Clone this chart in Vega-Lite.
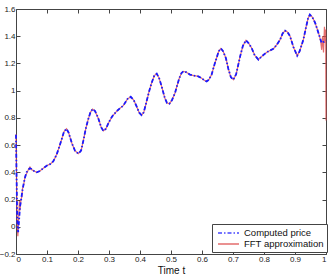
{
  "$schema": "https://vega.github.io/schema/vega-lite/v6.json",
  "autosize": {"type": "none"},
  "width": 310,
  "height": 245,
  "padding": {"left": 16, "top": 9, "right": 6, "bottom": 23},
  "background": "white",
  "datasets": {
    "fft": [
      {"t": 0, "y": 0.68, "series": "FFT approximation"},
      {"t": 0.002, "y": 0.30, "series": "FFT approximation"},
      {"t": 0.004, "y": 0.0, "series": "FFT approximation"},
      {"t": 0.006, "y": -0.07, "series": "FFT approximation"},
      {"t": 0.009, "y": 0.08, "series": "FFT approximation"},
      {"t": 0.011, "y": 0.19, "series": "FFT approximation"},
      {"t": 0.013, "y": 0.12, "series": "FFT approximation"},
      {"t": 0.016, "y": 0.20, "series": "FFT approximation"},
      {"t": 0.019, "y": 0.22, "series": "FFT approximation"},
      {"t": 0.021, "y": 0.28, "series": "FFT approximation"},
      {"t": 0.025, "y": 0.31, "series": "FFT approximation"},
      {"t": 0.029, "y": 0.37, "series": "FFT approximation"},
      {"t": 0.034, "y": 0.39, "series": "FFT approximation"},
      {"t": 0.040, "y": 0.42, "series": "FFT approximation"},
      {"t": 0.045, "y": 0.44, "series": "FFT approximation"},
      {"t": 0.050, "y": 0.42, "series": "FFT approximation"},
      {"t": 0.058, "y": 0.41, "series": "FFT approximation"},
      {"t": 0.067, "y": 0.40, "series": "FFT approximation"},
      {"t": 0.077, "y": 0.41, "series": "FFT approximation"},
      {"t": 0.088, "y": 0.43, "series": "FFT approximation"},
      {"t": 0.10, "y": 0.45, "series": "FFT approximation"},
      {"t": 0.11, "y": 0.46, "series": "FFT approximation"},
      {"t": 0.12, "y": 0.48, "series": "FFT approximation"},
      {"t": 0.131, "y": 0.53, "series": "FFT approximation"},
      {"t": 0.14, "y": 0.59, "series": "FFT approximation"},
      {"t": 0.147, "y": 0.64, "series": "FFT approximation"},
      {"t": 0.155, "y": 0.70, "series": "FFT approximation"},
      {"t": 0.163, "y": 0.72, "series": "FFT approximation"},
      {"t": 0.17, "y": 0.69, "series": "FFT approximation"},
      {"t": 0.18, "y": 0.615, "series": "FFT approximation"},
      {"t": 0.19, "y": 0.56, "series": "FFT approximation"},
      {"t": 0.201, "y": 0.537, "series": "FFT approximation"},
      {"t": 0.21, "y": 0.56, "series": "FFT approximation"},
      {"t": 0.217, "y": 0.63, "series": "FFT approximation"},
      {"t": 0.225, "y": 0.72, "series": "FFT approximation"},
      {"t": 0.233, "y": 0.79, "series": "FFT approximation"},
      {"t": 0.24, "y": 0.84, "series": "FFT approximation"},
      {"t": 0.247, "y": 0.865, "series": "FFT approximation"},
      {"t": 0.255, "y": 0.85, "series": "FFT approximation"},
      {"t": 0.265, "y": 0.80, "series": "FFT approximation"},
      {"t": 0.275, "y": 0.73, "series": "FFT approximation"},
      {"t": 0.282, "y": 0.705, "series": "FFT approximation"},
      {"t": 0.29, "y": 0.72, "series": "FFT approximation"},
      {"t": 0.30, "y": 0.77, "series": "FFT approximation"},
      {"t": 0.31, "y": 0.81, "series": "FFT approximation"},
      {"t": 0.325, "y": 0.85, "series": "FFT approximation"},
      {"t": 0.335, "y": 0.87, "series": "FFT approximation"},
      {"t": 0.346, "y": 0.89, "series": "FFT approximation"},
      {"t": 0.36, "y": 0.94, "series": "FFT approximation"},
      {"t": 0.37, "y": 0.955, "series": "FFT approximation"},
      {"t": 0.38, "y": 0.93, "series": "FFT approximation"},
      {"t": 0.389, "y": 0.885, "series": "FFT approximation"},
      {"t": 0.397, "y": 0.84, "series": "FFT approximation"},
      {"t": 0.405, "y": 0.82, "series": "FFT approximation"},
      {"t": 0.412, "y": 0.84, "series": "FFT approximation"},
      {"t": 0.42, "y": 0.91, "series": "FFT approximation"},
      {"t": 0.43, "y": 1.0, "series": "FFT approximation"},
      {"t": 0.438, "y": 1.06, "series": "FFT approximation"},
      {"t": 0.446, "y": 1.11, "series": "FFT approximation"},
      {"t": 0.454, "y": 1.125, "series": "FFT approximation"},
      {"t": 0.462, "y": 1.09, "series": "FFT approximation"},
      {"t": 0.47, "y": 1.03, "series": "FFT approximation"},
      {"t": 0.48, "y": 0.946, "series": "FFT approximation"},
      {"t": 0.487, "y": 0.91, "series": "FFT approximation"},
      {"t": 0.495, "y": 0.904, "series": "FFT approximation"},
      {"t": 0.503, "y": 0.93, "series": "FFT approximation"},
      {"t": 0.513, "y": 0.983, "series": "FFT approximation"},
      {"t": 0.52, "y": 1.04, "series": "FFT approximation"},
      {"t": 0.527, "y": 1.093, "series": "FFT approximation"},
      {"t": 0.534, "y": 1.13, "series": "FFT approximation"},
      {"t": 0.54, "y": 1.142, "series": "FFT approximation"},
      {"t": 0.55, "y": 1.135, "series": "FFT approximation"},
      {"t": 0.561, "y": 1.118, "series": "FFT approximation"},
      {"t": 0.575, "y": 1.11, "series": "FFT approximation"},
      {"t": 0.588, "y": 1.105, "series": "FFT approximation"},
      {"t": 0.60, "y": 1.09, "series": "FFT approximation"},
      {"t": 0.608, "y": 1.075, "series": "FFT approximation"},
      {"t": 0.615, "y": 1.068, "series": "FFT approximation"},
      {"t": 0.622, "y": 1.08, "series": "FFT approximation"},
      {"t": 0.631, "y": 1.118, "series": "FFT approximation"},
      {"t": 0.64, "y": 1.19, "series": "FFT approximation"},
      {"t": 0.647, "y": 1.24, "series": "FFT approximation"},
      {"t": 0.654, "y": 1.29, "series": "FFT approximation"},
      {"t": 0.661, "y": 1.31, "series": "FFT approximation"},
      {"t": 0.668, "y": 1.29, "series": "FFT approximation"},
      {"t": 0.677, "y": 1.24, "series": "FFT approximation"},
      {"t": 0.685, "y": 1.16, "series": "FFT approximation"},
      {"t": 0.693, "y": 1.10, "series": "FFT approximation"},
      {"t": 0.701, "y": 1.081, "series": "FFT approximation"},
      {"t": 0.71, "y": 1.12, "series": "FFT approximation"},
      {"t": 0.717, "y": 1.19, "series": "FFT approximation"},
      {"t": 0.723, "y": 1.252, "series": "FFT approximation"},
      {"t": 0.732, "y": 1.33, "series": "FFT approximation"},
      {"t": 0.742, "y": 1.37, "series": "FFT approximation"},
      {"t": 0.75, "y": 1.35, "series": "FFT approximation"},
      {"t": 0.76, "y": 1.314, "series": "FFT approximation"},
      {"t": 0.77, "y": 1.26, "series": "FFT approximation"},
      {"t": 0.782, "y": 1.228, "series": "FFT approximation"},
      {"t": 0.792, "y": 1.25, "series": "FFT approximation"},
      {"t": 0.803, "y": 1.272, "series": "FFT approximation"},
      {"t": 0.815, "y": 1.29, "series": "FFT approximation"},
      {"t": 0.83, "y": 1.307, "series": "FFT approximation"},
      {"t": 0.842, "y": 1.34, "series": "FFT approximation"},
      {"t": 0.852, "y": 1.375, "series": "FFT approximation"},
      {"t": 0.86, "y": 1.42, "series": "FFT approximation"},
      {"t": 0.868, "y": 1.441, "series": "FFT approximation"},
      {"t": 0.876, "y": 1.43, "series": "FFT approximation"},
      {"t": 0.884, "y": 1.40, "series": "FFT approximation"},
      {"t": 0.895, "y": 1.32, "series": "FFT approximation"},
      {"t": 0.907, "y": 1.257, "series": "FFT approximation"},
      {"t": 0.915, "y": 1.29, "series": "FFT approximation"},
      {"t": 0.927, "y": 1.375, "series": "FFT approximation"},
      {"t": 0.935, "y": 1.46, "series": "FFT approximation"},
      {"t": 0.942, "y": 1.53, "series": "FFT approximation"},
      {"t": 0.948, "y": 1.559, "series": "FFT approximation"},
      {"t": 0.956, "y": 1.54, "series": "FFT approximation"},
      {"t": 0.965, "y": 1.498, "series": "FFT approximation"},
      {"t": 0.972, "y": 1.45, "series": "FFT approximation"},
      {"t": 0.979, "y": 1.40, "series": "FFT approximation"},
      {"t": 0.983, "y": 1.36, "series": "FFT approximation"},
      {"t": 0.986, "y": 1.30, "series": "FFT approximation"},
      {"t": 0.989, "y": 1.40, "series": "FFT approximation"},
      {"t": 0.992, "y": 1.28, "series": "FFT approximation"},
      {"t": 0.995, "y": 1.47, "series": "FFT approximation"},
      {"t": 0.997, "y": 1.35, "series": "FFT approximation"},
      {"t": 0.999, "y": 1.45, "series": "FFT approximation"},
      {"t": 1.0, "y": 0.78, "series": "FFT approximation"}
    ],
    "computed": [
      {"t": 0, "y": 0.676, "series": "Computed price"},
      {"t": 0.002, "y": 0.35, "series": "Computed price"},
      {"t": 0.004, "y": 0.05, "series": "Computed price"},
      {"t": 0.007, "y": -0.04, "series": "Computed price"},
      {"t": 0.010, "y": 0.05, "series": "Computed price"},
      {"t": 0.013, "y": 0.15, "series": "Computed price"},
      {"t": 0.016, "y": 0.19, "series": "Computed price"},
      {"t": 0.021, "y": 0.27, "series": "Computed price"},
      {"t": 0.025, "y": 0.32, "series": "Computed price"},
      {"t": 0.029, "y": 0.36, "series": "Computed price"},
      {"t": 0.034, "y": 0.40, "series": "Computed price"},
      {"t": 0.040, "y": 0.42, "series": "Computed price"},
      {"t": 0.045, "y": 0.43, "series": "Computed price"},
      {"t": 0.050, "y": 0.425, "series": "Computed price"},
      {"t": 0.058, "y": 0.41, "series": "Computed price"},
      {"t": 0.067, "y": 0.40, "series": "Computed price"},
      {"t": 0.077, "y": 0.41, "series": "Computed price"},
      {"t": 0.088, "y": 0.43, "series": "Computed price"},
      {"t": 0.10, "y": 0.45, "series": "Computed price"},
      {"t": 0.11, "y": 0.46, "series": "Computed price"},
      {"t": 0.12, "y": 0.48, "series": "Computed price"},
      {"t": 0.131, "y": 0.53, "series": "Computed price"},
      {"t": 0.14, "y": 0.59, "series": "Computed price"},
      {"t": 0.147, "y": 0.64, "series": "Computed price"},
      {"t": 0.155, "y": 0.70, "series": "Computed price"},
      {"t": 0.163, "y": 0.72, "series": "Computed price"},
      {"t": 0.17, "y": 0.69, "series": "Computed price"},
      {"t": 0.18, "y": 0.615, "series": "Computed price"},
      {"t": 0.19, "y": 0.56, "series": "Computed price"},
      {"t": 0.201, "y": 0.537, "series": "Computed price"},
      {"t": 0.21, "y": 0.56, "series": "Computed price"},
      {"t": 0.217, "y": 0.63, "series": "Computed price"},
      {"t": 0.225, "y": 0.72, "series": "Computed price"},
      {"t": 0.233, "y": 0.79, "series": "Computed price"},
      {"t": 0.24, "y": 0.84, "series": "Computed price"},
      {"t": 0.247, "y": 0.865, "series": "Computed price"},
      {"t": 0.255, "y": 0.85, "series": "Computed price"},
      {"t": 0.265, "y": 0.80, "series": "Computed price"},
      {"t": 0.275, "y": 0.73, "series": "Computed price"},
      {"t": 0.282, "y": 0.705, "series": "Computed price"},
      {"t": 0.29, "y": 0.72, "series": "Computed price"},
      {"t": 0.30, "y": 0.77, "series": "Computed price"},
      {"t": 0.31, "y": 0.81, "series": "Computed price"},
      {"t": 0.325, "y": 0.85, "series": "Computed price"},
      {"t": 0.335, "y": 0.87, "series": "Computed price"},
      {"t": 0.346, "y": 0.89, "series": "Computed price"},
      {"t": 0.36, "y": 0.94, "series": "Computed price"},
      {"t": 0.37, "y": 0.955, "series": "Computed price"},
      {"t": 0.38, "y": 0.93, "series": "Computed price"},
      {"t": 0.389, "y": 0.885, "series": "Computed price"},
      {"t": 0.397, "y": 0.84, "series": "Computed price"},
      {"t": 0.405, "y": 0.82, "series": "Computed price"},
      {"t": 0.412, "y": 0.84, "series": "Computed price"},
      {"t": 0.42, "y": 0.91, "series": "Computed price"},
      {"t": 0.43, "y": 1.0, "series": "Computed price"},
      {"t": 0.438, "y": 1.06, "series": "Computed price"},
      {"t": 0.446, "y": 1.11, "series": "Computed price"},
      {"t": 0.454, "y": 1.125, "series": "Computed price"},
      {"t": 0.462, "y": 1.09, "series": "Computed price"},
      {"t": 0.47, "y": 1.03, "series": "Computed price"},
      {"t": 0.48, "y": 0.946, "series": "Computed price"},
      {"t": 0.487, "y": 0.91, "series": "Computed price"},
      {"t": 0.495, "y": 0.904, "series": "Computed price"},
      {"t": 0.503, "y": 0.93, "series": "Computed price"},
      {"t": 0.513, "y": 0.983, "series": "Computed price"},
      {"t": 0.52, "y": 1.04, "series": "Computed price"},
      {"t": 0.527, "y": 1.093, "series": "Computed price"},
      {"t": 0.534, "y": 1.13, "series": "Computed price"},
      {"t": 0.54, "y": 1.142, "series": "Computed price"},
      {"t": 0.55, "y": 1.135, "series": "Computed price"},
      {"t": 0.561, "y": 1.118, "series": "Computed price"},
      {"t": 0.575, "y": 1.11, "series": "Computed price"},
      {"t": 0.588, "y": 1.105, "series": "Computed price"},
      {"t": 0.60, "y": 1.09, "series": "Computed price"},
      {"t": 0.608, "y": 1.075, "series": "Computed price"},
      {"t": 0.615, "y": 1.068, "series": "Computed price"},
      {"t": 0.622, "y": 1.08, "series": "Computed price"},
      {"t": 0.631, "y": 1.118, "series": "Computed price"},
      {"t": 0.64, "y": 1.19, "series": "Computed price"},
      {"t": 0.647, "y": 1.24, "series": "Computed price"},
      {"t": 0.654, "y": 1.29, "series": "Computed price"},
      {"t": 0.661, "y": 1.31, "series": "Computed price"},
      {"t": 0.668, "y": 1.29, "series": "Computed price"},
      {"t": 0.677, "y": 1.24, "series": "Computed price"},
      {"t": 0.685, "y": 1.16, "series": "Computed price"},
      {"t": 0.693, "y": 1.10, "series": "Computed price"},
      {"t": 0.701, "y": 1.081, "series": "Computed price"},
      {"t": 0.71, "y": 1.12, "series": "Computed price"},
      {"t": 0.717, "y": 1.19, "series": "Computed price"},
      {"t": 0.723, "y": 1.252, "series": "Computed price"},
      {"t": 0.732, "y": 1.33, "series": "Computed price"},
      {"t": 0.742, "y": 1.37, "series": "Computed price"},
      {"t": 0.75, "y": 1.35, "series": "Computed price"},
      {"t": 0.76, "y": 1.314, "series": "Computed price"},
      {"t": 0.77, "y": 1.26, "series": "Computed price"},
      {"t": 0.782, "y": 1.228, "series": "Computed price"},
      {"t": 0.792, "y": 1.25, "series": "Computed price"},
      {"t": 0.803, "y": 1.272, "series": "Computed price"},
      {"t": 0.815, "y": 1.29, "series": "Computed price"},
      {"t": 0.83, "y": 1.307, "series": "Computed price"},
      {"t": 0.842, "y": 1.34, "series": "Computed price"},
      {"t": 0.852, "y": 1.375, "series": "Computed price"},
      {"t": 0.86, "y": 1.42, "series": "Computed price"},
      {"t": 0.868, "y": 1.441, "series": "Computed price"},
      {"t": 0.876, "y": 1.43, "series": "Computed price"},
      {"t": 0.884, "y": 1.40, "series": "Computed price"},
      {"t": 0.895, "y": 1.32, "series": "Computed price"},
      {"t": 0.907, "y": 1.257, "series": "Computed price"},
      {"t": 0.915, "y": 1.29, "series": "Computed price"},
      {"t": 0.927, "y": 1.375, "series": "Computed price"},
      {"t": 0.935, "y": 1.46, "series": "Computed price"},
      {"t": 0.942, "y": 1.53, "series": "Computed price"},
      {"t": 0.948, "y": 1.559, "series": "Computed price"},
      {"t": 0.956, "y": 1.54, "series": "Computed price"},
      {"t": 0.965, "y": 1.498, "series": "Computed price"},
      {"t": 0.972, "y": 1.45, "series": "Computed price"},
      {"t": 0.979, "y": 1.40, "series": "Computed price"},
      {"t": 0.986, "y": 1.35, "series": "Computed price"},
      {"t": 0.993, "y": 1.36, "series": "Computed price"},
      {"t": 1.0, "y": 1.37, "series": "Computed price"}
    ]
  },
  "config": {
    "view": {"stroke": "#444", "strokeWidth": 1},
    "axis": {
      "grid": false,
      "domain": false,
      "tickColor": "#444",
      "tickSize": -4,
      "labelPadding": 5,
      "labelFont": "Liberation Sans",
      "labelFontSize": 8,
      "labelColor": "#222",
      "titleFont": "Liberation Sans",
      "titleFontSize": 10,
      "titleFontWeight": "normal",
      "titleColor": "#111"
    },
    "legend": {
      "orient": "none",
      "legendX": 196,
      "legendY": 215,
      "strokeColor": "#444",
      "fillColor": "white",
      "padding": 3,
      "rowPadding": 0,
      "symbolType": "M-2.1,0H2.1",
      "symbolSize": 100,
      "symbolOffset": 7.5,
      "symbolStrokeWidth": 1.5,
      "labelFont": "Liberation Sans",
      "labelFontSize": 9.5,
      "labelColor": "#111",
      "labelOffset": 9.5,
      "labelLimit": 200
    }
  },
  "layer": [
    {
      "data": {"name": "fft"},
      "mark": {"type": "line", "strokeWidth": 1.2, "opacity": 0.8},
      "encoding": {
        "x": {"field": "t", "type": "quantitative", "scale": {"domain": [0, 1], "nice": false},
              "axis": {"orient": "bottom", "values": [0, 0.1, 0.2, 0.3, 0.4, 0.5, 0.6, 0.7, 0.8, 0.9, 1], "format": "~g", "title": "Time t", "titlePadding": 2}},
        "y": {"field": "y", "type": "quantitative", "scale": {"domain": [-0.2, 1.6], "nice": false, "zero": false},
              "axis": {"orient": "left", "values": [-0.2, 0, 0.2, 0.4, 0.6, 0.8, 1, 1.2, 1.4, 1.6], "format": "~g", "title": null}},
        "color": {"field": "series", "type": "nominal",
                  "scale": {"domain": ["Computed price", "FFT approximation"], "range": ["#1a1aff", "#dd4a4a"]},
                  "legend": {"title": null}},
        "strokeDash": {"field": "series", "type": "nominal",
                  "scale": {"domain": ["Computed price", "FFT approximation"], "range": [[4, 2, 1.5, 2], [1, 0]]},
                  "legend": {"title": null}}
      }
    },
    {
      "data": {"name": "computed"},
      "mark": {"type": "line", "strokeWidth": 1.8},
      "encoding": {
        "x": {"field": "t", "type": "quantitative",
              "axis": {"orient": "top", "values": [0, 0.1, 0.2, 0.3, 0.4, 0.5, 0.6, 0.7, 0.8, 0.9, 1], "labels": false, "title": null}},
        "y": {"field": "y", "type": "quantitative",
              "axis": {"orient": "right", "values": [-0.2, 0, 0.2, 0.4, 0.6, 0.8, 1, 1.2, 1.4, 1.6], "labels": false, "title": null}},
        "color": {"field": "series", "type": "nominal", "legend": {"title": null}},
        "strokeDash": {"field": "series", "type": "nominal", "legend": {"title": null}}
      }
    }
  ],
  "resolve": {"axis": {"x": "independent", "y": "independent"}}
}
